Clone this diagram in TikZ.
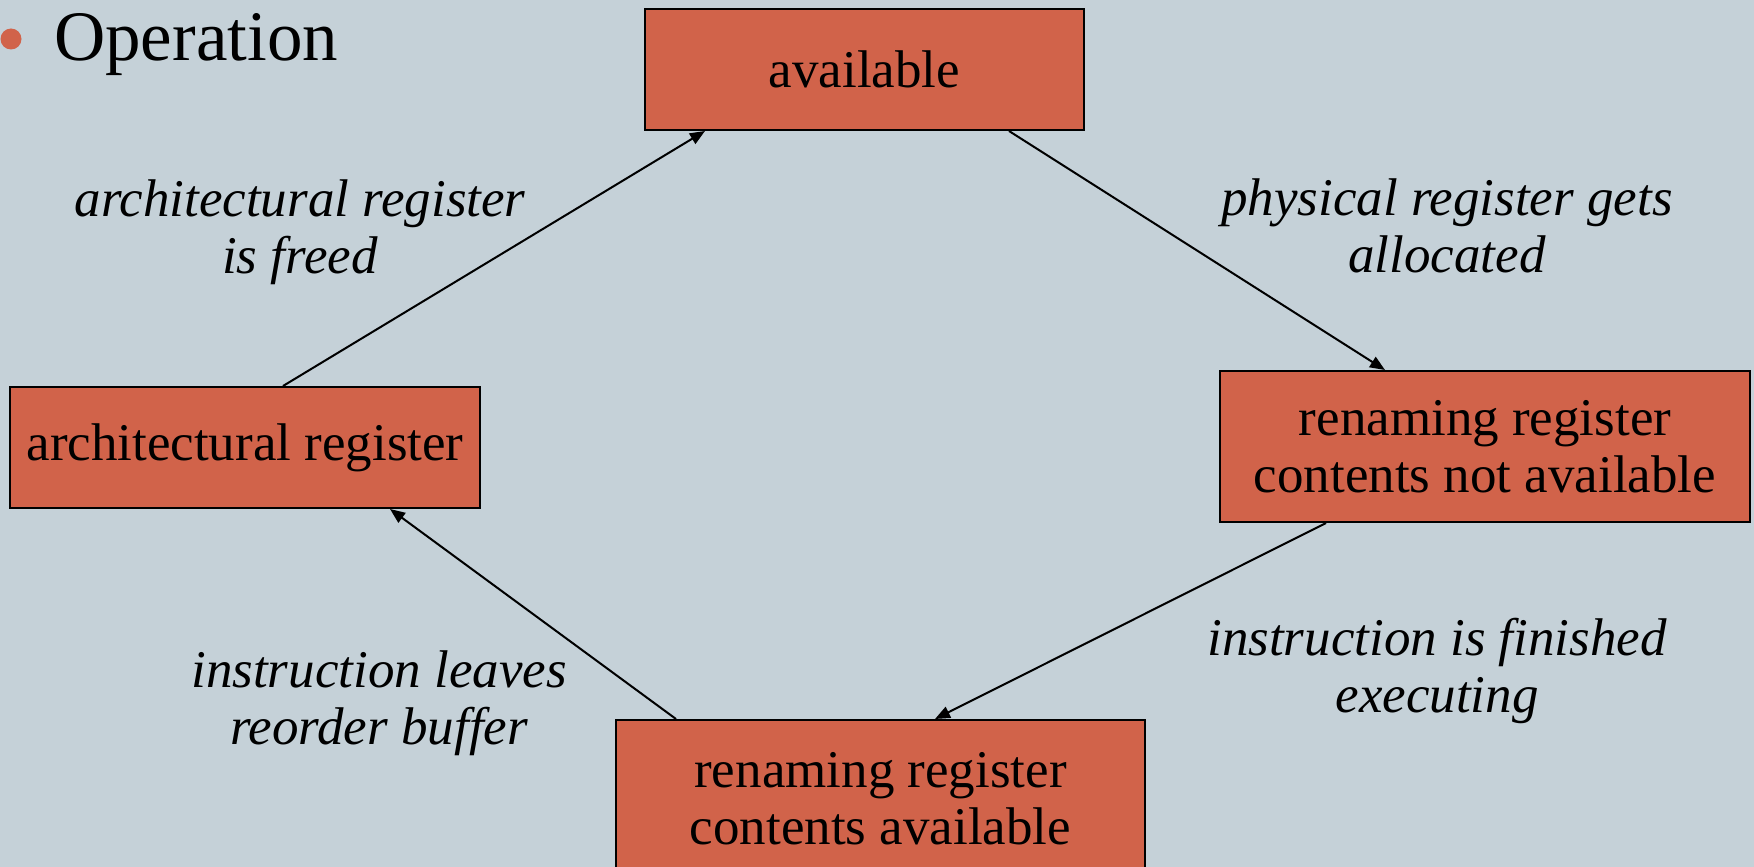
\documentclass[tikz,border=0pt]{standalone}
\usepackage{fontspec}
\setmainfont{Liberation Serif}
\usetikzlibrary{arrows.meta}
\definecolor{slidebg}{RGB}{197,209,216}
\definecolor{statefill}{RGB}{209,99,74}
\begin{document}
\begin{tikzpicture}[x=1pt,y=-1pt,
  state/.style={draw=black,line width=2pt,fill=statefill,align=center,inner sep=0pt,
    font=\fontsize{53}{57}\selectfont},
  lbl/.style={align=center,inner sep=0pt,font=\itshape\fontsize{53}{57}\selectfont},
  trans/.style={line width=2pt,-{Triangle[length=15pt,width=12pt]}}]
  % slide background
  \fill[slidebg] (0,0) rectangle (1754,867);
  \useasboundingbox (0,0) rectangle (1754,867);
  % heading bullet
  \fill[statefill] (11,39) circle (10.5);
  \node[anchor=base west,inner sep=0pt,font=\fontsize{71}{74}\selectfont] (title) at (54,60) {Operation};
  % register states
  \node[state,minimum width=439pt,minimum height=121pt] (avail) at (864.5,69.5) {\raisebox{-3pt}{available}};
  \node[state,minimum width=530pt,minimum height=151pt] (notready) at (1485,446.5) {renaming register\\contents not available};
  \node[state,minimum width=470pt,minimum height=121pt] (arch) at (245,447.5) {\raisebox{-2pt}{architectural register}};
  \node[state,minimum width=529pt,minimum height=158pt] (ready) at (880.5,799) {renaming register\\contents available};
  % transitions
  \draw[trans] ([xshift=38pt]arch.north) -- ([xshift=-159.5pt]avail.south);
  \draw[trans] ([xshift=144.5pt]avail.south) -- ([xshift=-100pt]notready.north);
  \draw[trans] ([xshift=-159pt]notready.south) -- ([xshift=54.5pt]ready.north);
  \draw[trans] ([xshift=-204.5pt]ready.north) -- ([xshift=145pt]arch.south);
  % transition labels
  \node[lbl] (l1) at (300,232) {architectural register\\is freed};
  \node[lbl] (l2) at (1447,226) {physical register gets\\allocated};
  \node[lbl] (l3) at (1437,671) {instruction is finished\\executing};
  \node[lbl] (l4) at (379,703) {instruction leaves\\reorder buffer};
\end{tikzpicture}
\end{document}
